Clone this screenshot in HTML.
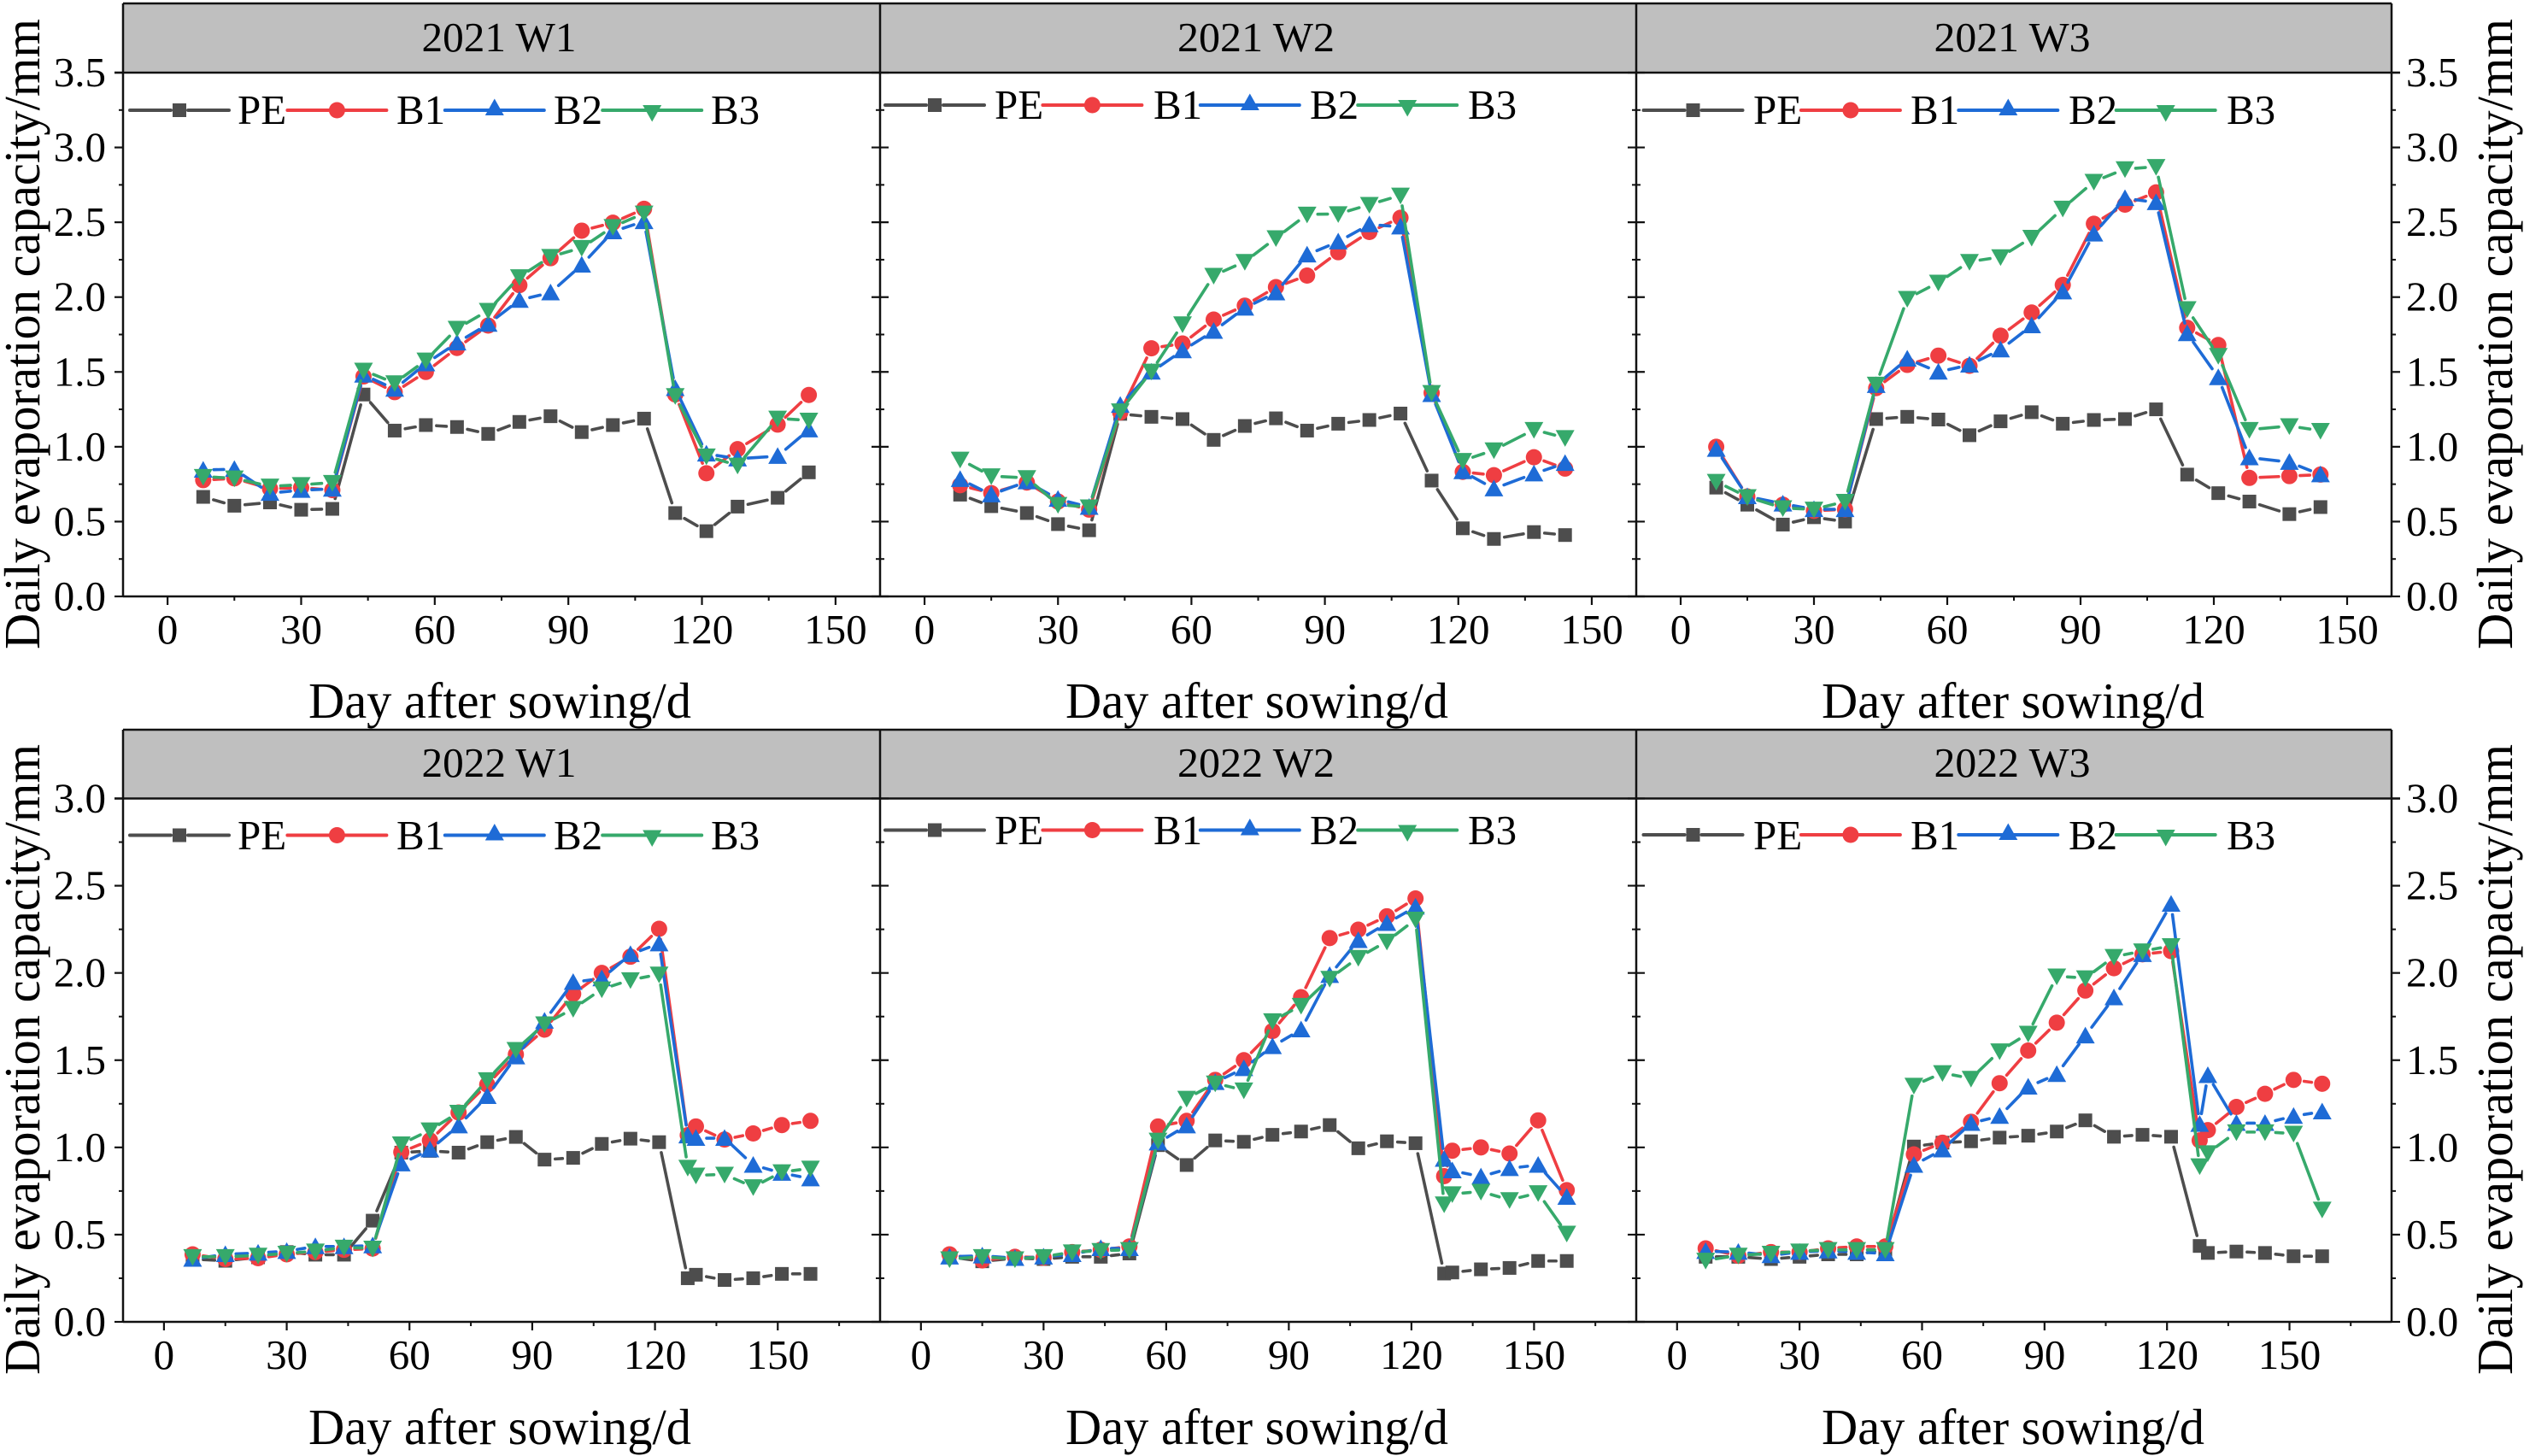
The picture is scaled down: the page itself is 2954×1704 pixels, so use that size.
<!DOCTYPE html>
<html lang="en">
<head>
<meta charset="utf-8">
<title>Daily evaporation capacity by days after sowing</title>
<style>
html,body{margin:0;padding:0;background:#fff;}
svg{display:block;}
text{font-family:"Liberation Serif","Times New Roman",serif;fill:#000;}
</style>
</head>
<body>
<svg id="chart" xmlns="http://www.w3.org/2000/svg" width="2954" height="1704" viewBox="0 0 2954 1704">
  <rect x="0" y="0" width="2954" height="1704" fill="#ffffff"/>

  <g>
    <rect x="144" y="4" width="2655" height="81" fill="#bfbfbf"/>
    <rect x="144" y="854" width="2655" height="80" fill="#bfbfbf"/>
    <text x="584" y="60" text-anchor="middle" font-size="49" textLength="181" lengthAdjust="spacingAndGlyphs">2021 W1</text>
    <text x="1470" y="60" text-anchor="middle" font-size="49" textLength="184" lengthAdjust="spacingAndGlyphs">2021 W2</text>
    <text x="2355" y="60" text-anchor="middle" font-size="49" textLength="183" lengthAdjust="spacingAndGlyphs">2021 W3</text>
    <text x="584" y="909" text-anchor="middle" font-size="49" textLength="181" lengthAdjust="spacingAndGlyphs">2022 W1</text>
    <text x="1470" y="909" text-anchor="middle" font-size="49" textLength="184" lengthAdjust="spacingAndGlyphs">2022 W2</text>
    <text x="2355" y="909" text-anchor="middle" font-size="49" textLength="183" lengthAdjust="spacingAndGlyphs">2022 W3</text>
  </g>

  <g>
    <text transform="translate(46,760) rotate(-90)" font-size="59" textLength="738" lengthAdjust="spacingAndGlyphs">Daily evaporation capacity/mm</text>
    <text transform="translate(2940,760) rotate(-90)" font-size="59" textLength="738" lengthAdjust="spacingAndGlyphs">Daily evaporation capacity/mm</text>
    <text transform="translate(46,1609) rotate(-90)" font-size="59" textLength="738" lengthAdjust="spacingAndGlyphs">Daily evaporation capacity/mm</text>
    <text transform="translate(2940,1609) rotate(-90)" font-size="59" textLength="738" lengthAdjust="spacingAndGlyphs">Daily evaporation capacity/mm</text>
    <text x="585" y="840" text-anchor="middle" font-size="59" textLength="448" lengthAdjust="spacingAndGlyphs">Day after sowing/d</text>
    <text x="1471" y="840" text-anchor="middle" font-size="59" textLength="448" lengthAdjust="spacingAndGlyphs">Day after sowing/d</text>
    <text x="2356" y="840" text-anchor="middle" font-size="59" textLength="448" lengthAdjust="spacingAndGlyphs">Day after sowing/d</text>
    <text x="585" y="1690" text-anchor="middle" font-size="59" textLength="448" lengthAdjust="spacingAndGlyphs">Day after sowing/d</text>
    <text x="1471" y="1690" text-anchor="middle" font-size="59" textLength="448" lengthAdjust="spacingAndGlyphs">Day after sowing/d</text>
    <text x="2356" y="1690" text-anchor="middle" font-size="59" textLength="448" lengthAdjust="spacingAndGlyphs">Day after sowing/d</text>
  </g>

  <g font-size="49">
    <text x="278" y="145">PE</text>
    <text x="464" y="145">B1</text>
    <text x="648" y="145">B2</text>
    <text x="832" y="145">B3</text>
    <text x="1164" y="139">PE</text>
    <text x="1350" y="139">B1</text>
    <text x="1533" y="139">B2</text>
    <text x="1718" y="139">B3</text>
    <text x="2052" y="145">PE</text>
    <text x="2236" y="145">B1</text>
    <text x="2421" y="145">B2</text>
    <text x="2606" y="145">B3</text>
    <text x="278" y="994">PE</text>
    <text x="464" y="994">B1</text>
    <text x="648" y="994">B2</text>
    <text x="832" y="994">B3</text>
    <text x="1164" y="988">PE</text>
    <text x="1350" y="988">B1</text>
    <text x="1533" y="988">B2</text>
    <text x="1718" y="988">B3</text>
    <text x="2052" y="994">PE</text>
    <text x="2236" y="994">B1</text>
    <text x="2421" y="994">B2</text>
    <text x="2606" y="994">B3</text>
  </g>

  <g id="axes-layer"></g>
  <g id="legend-layer"></g>
  <g id="series-layer"></g>
</svg>

<script>
const days2021 = [8,15,23,30,37,44,51,58,65,72,79,86,93,100,107,114,121,128,137,144];
const days2022 = [7,15,23,30,37,44,51,58,65,72,79,86,93,100,107,114,121,128,130,137,144,151,158];

const xTickLabels = [0,30,60,90,120,150];
const xMinorTicks2021 = [15,45,75,105,135];
const xMinorTicks2022 = [15,45,75,105,135,165];
const yTickLabels2021 = ['0.0','0.5','1.0','1.5','2.0','2.5','3.0','3.5'];
const yTickLabels2022 = ['0.0','0.5','1.0','1.5','2.0','2.5','3.0'];

const pe2021W1 = [0.665,0.606,0.628,0.579,0.585,1.349,1.108,1.145,1.132,1.086,1.166,1.204,1.098,1.145,1.188,0.557,0.436,0.60,0.659,0.829];
const b12021W1 = [0.777,0.789,0.72,0.727,0.71,1.47,1.365,1.50,1.66,1.81,2.08,2.26,2.444,2.497,2.59,1.35,0.823,0.984,1.148,1.346];
const b22021W1 = [0.845,0.85,0.69,0.71,0.718,1.48,1.386,1.556,1.695,1.82,1.98,2.03,2.215,2.438,2.506,1.39,0.953,0.92,0.937,1.114];
const b32021W1 = [0.80,0.79,0.736,0.746,0.76,1.51,1.426,1.578,1.79,1.91,2.135,2.27,2.33,2.47,2.56,1.34,0.937,0.876,1.19,1.176];

const pe2021W2 = [0.68,0.603,0.557,0.483,0.442,1.22,1.20,1.185,1.046,1.139,1.19,1.108,1.154,1.179,1.222,0.774,0.455,0.384,0.43,0.41];
const b12021W2 = [0.743,0.69,0.761,0.634,0.58,1.23,1.658,1.69,1.85,1.943,2.067,2.144,2.30,2.435,2.53,1.36,0.832,0.81,0.93,0.854];
const b22021W2 = [0.783,0.68,0.767,0.65,0.597,1.278,1.50,1.643,1.773,1.928,2.03,2.283,2.37,2.485,2.47,1.35,0.835,0.72,0.82,0.89];
const b32021W2 = [0.916,0.804,0.792,0.613,0.597,1.238,1.504,1.82,2.144,2.237,2.395,2.553,2.556,2.618,2.68,1.361,0.907,0.978,1.114,1.06];

const pe2021W3 = [0.727,0.613,0.48,0.529,0.50,1.185,1.20,1.182,1.077,1.17,1.231,1.154,1.179,1.185,1.25,0.814,0.69,0.634,0.55,0.597];
const b12021W3 = [1.0,0.668,0.613,0.572,0.582,1.392,1.547,1.609,1.541,1.742,1.897,2.082,2.49,2.618,2.70,1.795,1.68,0.792,0.804,0.814];
const b22021W3 = [0.984,0.668,0.619,0.582,0.582,1.411,1.587,1.50,1.547,1.649,1.81,2.036,2.423,2.66,2.633,1.757,1.463,0.928,0.897,0.814];
const b32021W3 = [0.767,0.665,0.591,0.582,0.634,1.417,1.99,2.098,2.237,2.268,2.398,2.593,2.772,2.856,2.871,1.921,1.609,1.114,1.139,1.108];

const pe2022W1 = [0.36,0.35,0.37,0.40,0.385,0.385,0.58,0.97,0.98,0.97,1.03,1.06,0.93,0.94,1.02,1.05,1.03,0.25,0.27,0.24,0.25,0.275,0.275];
const b12022W1 = [0.387,0.36,0.365,0.387,0.40,0.413,0.42,0.973,1.04,1.20,1.36,1.533,1.675,1.88,2.0,2.093,2.253,1.07,1.12,1.045,1.08,1.128,1.152];
const b22022W1 = [0.36,0.387,0.395,0.405,0.432,0.432,0.437,0.907,0.987,1.125,1.293,1.52,1.725,1.947,1.968,2.107,2.168,1.067,1.053,1.053,0.899,0.853,0.821];
const b32022W1 = [0.373,0.373,0.381,0.392,0.405,0.427,0.421,1.019,1.099,1.20,1.387,1.56,1.707,1.795,1.907,1.96,1.992,0.885,0.84,0.845,0.773,0.859,0.88];

const pe2022W2 = [0.373,0.347,0.365,0.36,0.373,0.373,0.392,1.013,0.899,1.04,1.032,1.072,1.091,1.128,0.995,1.035,1.024,0.277,0.283,0.301,0.309,0.349,0.349];
const b12022W2 = [0.387,0.352,0.373,0.368,0.40,0.413,0.432,1.12,1.152,1.387,1.50,1.667,1.861,2.20,2.248,2.325,2.427,0.835,0.981,1.0,0.965,1.155,0.755];
const b22022W2 = [0.373,0.379,0.365,0.373,0.387,0.421,0.421,1.027,1.125,1.373,1.453,1.579,1.675,1.987,2.187,2.285,2.379,0.933,0.867,0.832,0.88,0.899,0.715];
const b32022W2 = [0.36,0.373,0.36,0.373,0.40,0.408,0.413,1.04,1.28,1.368,1.328,1.725,1.813,1.968,2.088,2.181,2.307,0.675,0.733,0.747,0.699,0.739,0.507];

const pe2022W3 = [0.373,0.373,0.36,0.373,0.387,0.387,0.413,1.005,1.027,1.035,1.056,1.067,1.091,1.155,1.061,1.072,1.061,0.435,0.395,0.403,0.395,0.376,0.376];
const b12022W3 = [0.421,0.379,0.40,0.40,0.421,0.432,0.432,0.96,1.027,1.147,1.368,1.555,1.715,1.899,2.027,2.107,2.125,1.04,1.099,1.232,1.307,1.387,1.365];
const b22022W3 = [0.405,0.40,0.381,0.40,0.408,0.40,0.392,0.899,0.987,1.139,1.179,1.347,1.419,1.64,1.859,2.107,2.395,1.133,1.413,1.139,1.139,1.179,1.205];
const b32022W3 = [0.352,0.381,0.392,0.405,0.413,0.413,0.413,1.355,1.427,1.395,1.552,1.653,1.981,1.971,2.093,2.125,2.155,0.893,0.968,1.088,1.088,1.08,0.645];

const seriesNames = ['PE','B1','B2','B3'];
const seriesColors = ['#4d4d4d','#ef3e42','#1e6bd6','#36a96b'];

const rows2021 = [[pe2021W1,b12021W1,b22021W1,b32021W1],[pe2021W2,b12021W2,b22021W2,b32021W2],[pe2021W3,b12021W3,b22021W3,b32021W3]];
const rows2022 = [[pe2022W1,b12022W1,b22022W1,b32022W1],[pe2022W2,b12022W2,b22022W2,b32022W2],[pe2022W3,b12022W3,b22022W3,b32022W3]];

const svgNS = 'http://www.w3.org/2000/svg';
const axesLayer = document.getElementById('axes-layer');
const legendLayer = document.getElementById('legend-layer');
const seriesLayer = document.getElementById('series-layer');

function make(parent, tag, attrs) {
  const el = document.createElementNS(svgNS, tag);
  for (const key in attrs) el.setAttribute(key, attrs[key]);
  parent.appendChild(el);
  return el;
}

function axisLine(parent, x1, y1, x2, y2, width) {
  const el = make(parent, 'line', {x1: x1, y1: y1, x2: x2, y2: y2, stroke: '#111111', 'stroke-width': width});
  
  
  return el;
}

function drawMarker(parent, kind, x, y, color) {
  let el;
  if (kind === 0) {
    el = make(parent, 'rect', {x: x - 8, y: y - 8, width: 16, height: 16, fill: color});
  } else if (kind === 1) {
    el = make(parent, 'circle', {cx: x, cy: y, r: 9.5, fill: color});
  } else if (kind === 2) {
    el = make(parent, 'polygon', {points: (x) + ',' + (y - 10.5) + ' ' + (x - 11) + ',' + (y + 9) + ' ' + (x + 11) + ',' + (y + 9), fill: color});
  } else {
    el = make(parent, 'polygon', {points: (x) + ',' + (y + 10.5) + ' ' + (x - 11) + ',' + (y - 9) + ' ' + (x + 11) + ',' + (y - 9), fill: color});
  }
  
  
  return el;
}

function drawRow(cfg) {
  const panelLeft = function (col) { return cfg.lefts[col]; };
  const xScale = function (col, day) {
    return cfg.lefts[col] + (day - cfg.xMin) / (cfg.xMax - cfg.xMin) * (cfg.lefts[col + 1] - cfg.lefts[col]);
  };
  const yScale = function (value) {
    return cfg.y0 - value / cfg.yMax * (cfg.y0 - cfg.plotTop);
  };

  // frame lines
  axisLine(axesLayer, cfg.lefts[0], cfg.headerTop, cfg.lefts[3], cfg.headerTop, 2.5);
  axisLine(axesLayer, cfg.lefts[0] - 10, cfg.plotTop, cfg.lefts[3] + 10, cfg.plotTop, 2.5);
  axisLine(axesLayer, cfg.lefts[0], cfg.y0, cfg.lefts[3], cfg.y0, 2.5);
  for (let i = 0; i < 4; i++) {
    axisLine(axesLayer, cfg.lefts[i], cfg.headerTop, cfg.lefts[i], cfg.y0, 2.5);
  }

  // y ticks and labels
  for (let t = 0; t < cfg.yLabels.length; t++) {
    const value = parseFloat(cfg.yLabels[t]);
    const y = yScale(value);
    for (let i = 0; i < 4; i++) {
      const dl = i === 3 ? 0 : 10;
      const dr = i === 0 ? 0 : 10;
      const tick = axisLine(axesLayer, cfg.lefts[i] - dl, y, cfg.lefts[i] + dr, y, 2.2);
      
      if (t < cfg.yLabels.length - 1) {
        const my = yScale(value + 0.25);
        const ml = i === 3 ? 0 : 5;
        const mr = i === 0 ? 0 : 5;
        const minor = axisLine(axesLayer, cfg.lefts[i] - ml, my, cfg.lefts[i] + mr, my, 2);
        
      }
    }
    const leftLabel = make(axesLayer, 'text', {x: 124, y: y + 16, 'text-anchor': 'end', 'font-size': 49});
    
    
    leftLabel.textContent = cfg.yLabels[t];
    const rightLabel = make(axesLayer, 'text', {x: 2816, y: y + 16, 'font-size': 49});
    
    
    rightLabel.textContent = cfg.yLabels[t];
  }

  for (let col = 0; col < 3; col++) {
    // x ticks
    for (let t = 0; t < xTickLabels.length; t++) {
      const x = xScale(col, xTickLabels[t]);
      const tick = axisLine(axesLayer, x, cfg.y0, x, cfg.y0 + 10, 2.2);
      
      const label = make(axesLayer, 'text', {x: x, y: cfg.y0 + 55, 'text-anchor': 'middle', 'font-size': 49});
      
      
      label.textContent = xTickLabels[t];
    }
    for (let t = 0; t < cfg.xMinor.length; t++) {
      const x = xScale(col, cfg.xMinor[t]);
      const minor = axisLine(axesLayer, x, cfg.y0, x, cfg.y0 + 5, 2);
      
    }

    // legend keys
    for (let s = 0; s < seriesNames.length; s++) {
      const keyStart = panelLeft(col) + cfg.legendDx[col] + s * 184.4;
      const keyY = cfg.legendY[col];
      const keyCenter = keyStart + 58;
      const keyColor = seriesColors[s];
      const gap = s === 0 ? 10 : 0;
      const keyLeft = make(legendLayer, 'line', {x1: keyStart, y1: keyY, x2: keyCenter - gap, y2: keyY, stroke: keyColor, 'stroke-width': 4, 'stroke-linecap': 'round'});
      
      
      const keyRight = make(legendLayer, 'line', {x1: keyCenter + gap, y1: keyY, x2: keyStart + 116, y2: keyY, stroke: keyColor, 'stroke-width': 4, 'stroke-linecap': 'round'});
      
      
      const markOffset = s === 2 ? -3 : (s === 3 ? 3 : 0);
      const keyMark = drawMarker(legendLayer, s, keyCenter, keyY + markOffset, keyColor);
      
    }

    // series
    for (let s = 0; s < seriesNames.length; s++) {
      const values = cfg.data[col][s];
      const group = make(seriesLayer, 'g', {});
      
      
      const color = seriesColors[s];
      const gap = 12.5;
      for (let i = 0; i + 1 < values.length; i++) {
        const ax = xScale(col, cfg.days[i]);
        const ay = yScale(values[i]);
        const bx = xScale(col, cfg.days[i + 1]);
        const by = yScale(values[i + 1]);
        const len = Math.hypot(bx - ax, by - ay);
        if (len <= gap * 2 + 1) continue;
        const ux = (bx - ax) / len;
        const uy = (by - ay) / len;
        const seg = make(group, 'line', {x1: ax + ux * gap, y1: ay + uy * gap, x2: bx - ux * gap, y2: by - uy * gap, stroke: color, 'stroke-width': 3.6, 'stroke-linecap': 'round'});
        
        
      }
      for (let i = 0; i < values.length; i++) {
        drawMarker(group, s, xScale(col, cfg.days[i]), yScale(values[i]), color);
      }
    }
  }
}

function renderChart() {
  drawRow({
    year: 2021,
    lefts: [144, 1030, 1915, 2799],
    headerTop: 4, plotTop: 85, y0: 698,
    xMin: -10, xMax: 160, yMax: 3.5,
    days: days2021, data: rows2021,
    xMinor: xMinorTicks2021, yLabels: yTickLabels2021,
    legendDx: [8, 6, 8.5], legendY: [129, 123, 129]
  });
  drawRow({
    year: 2022,
    lefts: [144, 1030, 1915, 2799],
    headerTop: 854, plotTop: 934.5, y0: 1547,
    xMin: -10, xMax: 175, yMax: 3.0,
    days: days2022, data: rows2022,
    xMinor: xMinorTicks2022, yLabels: yTickLabels2022,
    legendDx: [8, 6, 8.5], legendY: [977.5, 971.5, 977]
  });
}

renderChart();
</script>
</body>
</html>
